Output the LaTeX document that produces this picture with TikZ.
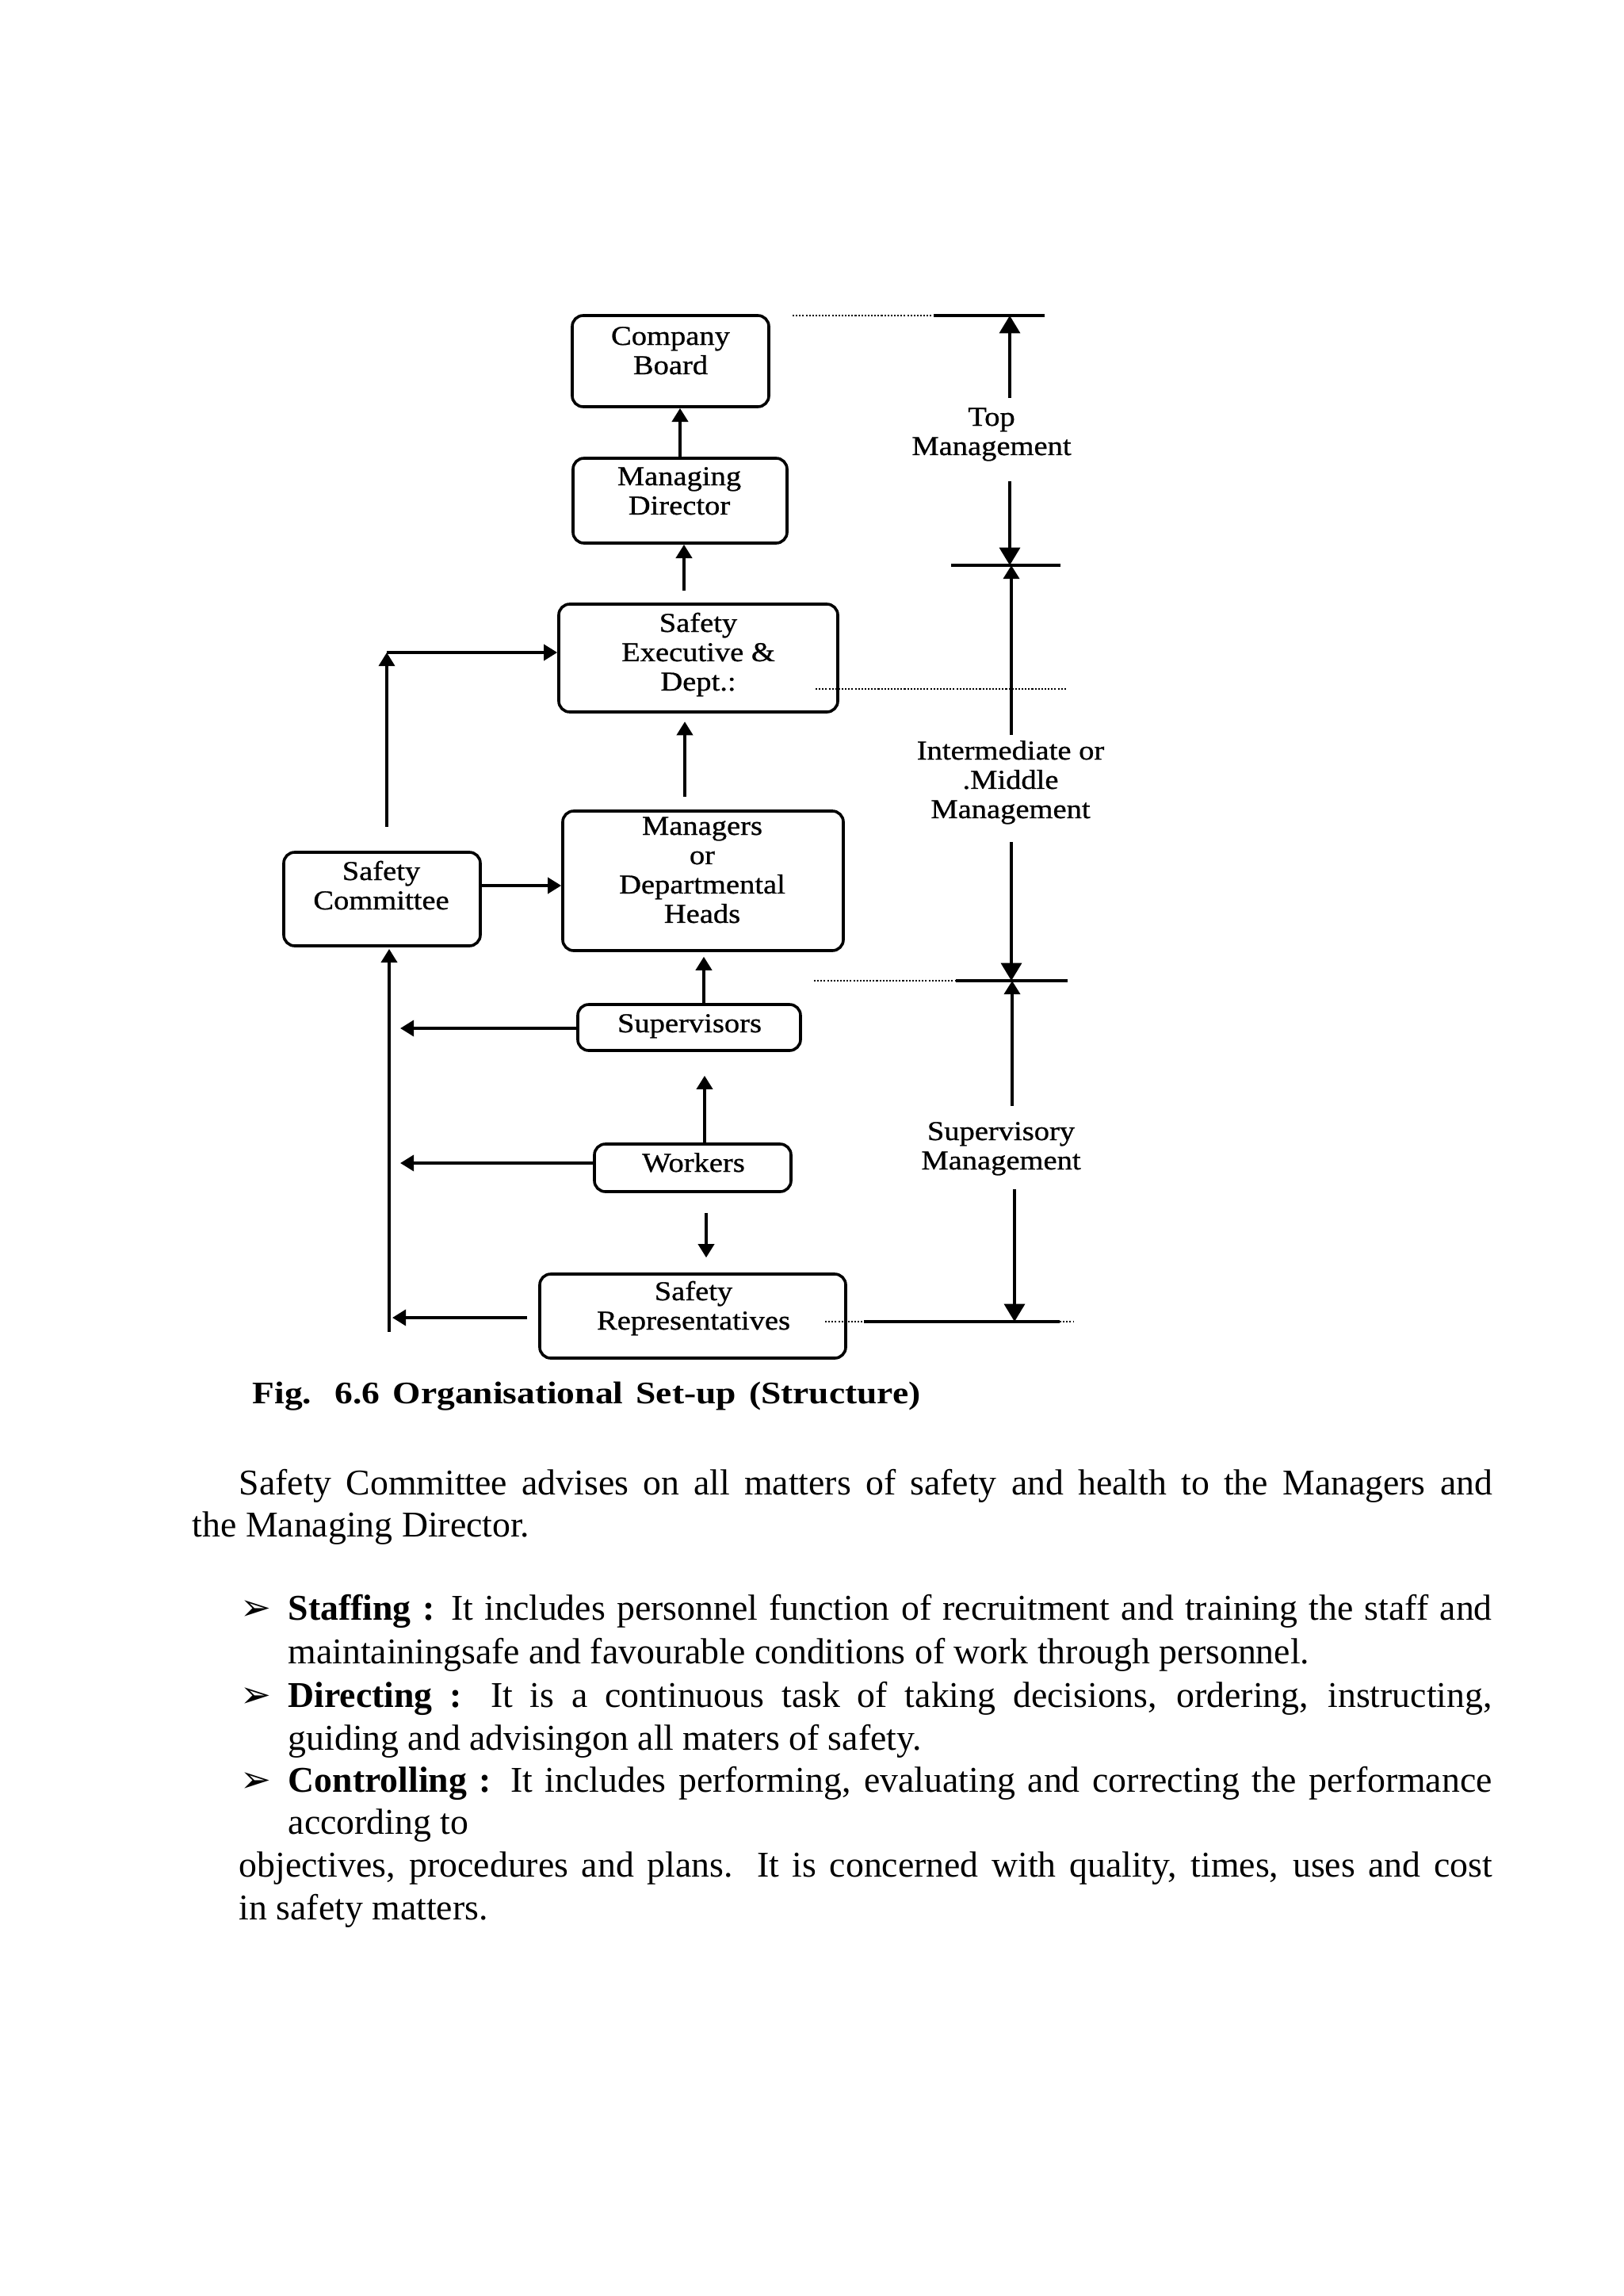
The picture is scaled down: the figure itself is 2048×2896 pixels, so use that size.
\documentclass[tikz,border=0pt]{standalone}
\usepackage{fontspec}
\setmainfont{Liberation Serif}
\newfontfamily\lblfont[FakeStretch=1.12,FakeBold=0.8]{Liberation Serif}
\newfontfamily\capfont[FakeStretch=1.15]{Liberation Serif}
\newfontfamily\symfont{DejaVu Sans}
\usetikzlibrary{arrows.meta,fit,calc}
\newcommand\lns[1]{\begin{tabular}[t]{@{}c@{}}#1\end{tabular}}
\begin{document}
\begin{tikzpicture}[x=0.29066pt,y=-0.29066pt,
  box/.style={draw, line width=1.05pt, rounded corners=4pt, inner sep=0pt},
  lbl/.style={font=\lblfont\fontsize{10}{10.75}\selectfont, inner sep=0pt, anchor=base},
  ln/.style={line width=1.2pt},
  arr/.style={line width=1.2pt, -{Triangle[length=5pt,width=5.8pt]}},
  dimarr/.style={line width=1.2pt, -{Triangle[length=6.5pt,width=7.5pt]}},
  dotl/.style={line width=0.6pt, dash pattern=on 0.6pt off 0.6pt},
  body/.style={font=\fontsize{13.3}{15.5}\selectfont, inner sep=0pt, anchor=base west},
  bul/.style={font=\symfont\fontsize{13.5}{15}\selectfont, inner sep=0pt, anchor=base west}]
\useasboundingbox (0,0) rectangle (2048,2896);
\fill[white] (0,0) rectangle (2048,2896);

% boxes
\node[box, fit={(722,398) (970,513)}] (cb) {};
\node[box, fit={(723,578) (993,685)}] (md) {};
\node[box, fit={(705,762) (1057,898)}] (se) {};
\node[box, fit={(710,1023) (1064,1199)}] (mgr) {};
\node[box, fit={(358,1075) (606,1193)}] (sc) {};
\node[box, fit={(729,1267) (1010,1325)}] (sup) {};
\node[box, fit={(750,1443) (998,1503)}] (wrk) {};
\node[box, fit={(681,1607) (1067,1713)}] (sr) {};

% box labels
\node[lbl] (cbt) at (846,435) {\lns{Company\\Board}};
\node[lbl] (mdt) at (857,612) {\lns{Managing\\Director}};
\node[lbl] (set) at (881,797) {\lns{Safety\\Executive \&\\Dept.:}};
\node[lbl] (mgrt) at (886,1053) {\lns{Managers\\or\\Departmental\\Heads}};
\node[lbl] (sct) at (481,1110) {\lns{Safety\\Committee}};
\node[lbl] (supt) at (870,1302) {Supervisors};
\node[lbl] (wrkt) at (875,1478) {Workers};
\node[lbl] (srt) at (875,1640) {\lns{Safety\\Representatives}};

% side labels
\node[lbl] (tm) at (1251,537) {\lns{Top\\Management}};
\node[lbl] (im) at (1275,958) {\lns{Intermediate or\\.Middle\\Management}};
\node[lbl] (sv) at (1263,1438) {\lns{Supervisory\\Management}};

% central arrows
\draw[arr] (md.north) -- (md.north |- cb.south);
\coordinate (s1) at (863,745);
\draw[arr] (s1) -- (s1 |- md.south);
\coordinate (s2) at (864,1005);
\draw[arr, shorten >=3pt] (s2) -- (s2 |- se.south);
\coordinate (s3) at (888,1267);
\draw[arr, shorten >=1.7pt] (s3) -- (s3 |- mgr.south);
\coordinate (s4) at (889,1443);
\draw[arr, shorten >=8.7pt] (s4) -- (s4 |- sup.south);
\coordinate (s6) at (891,1503);
\draw[arr, shorten <=7.8pt, shorten >=5.5pt] (s6) -- (s6 |- sr.north);
\coordinate (s5) at (606,1117);
\draw[arr] (s5) -- (s5 -| mgr.west);

% safety committee loop
\coordinate (c1) at (488,1043);
\coordinate (c2) at (488,823);
\draw[arr] (c1) -- (c2);
\draw[arr] (c2) -- (c2 -| se.west);
\coordinate (c3) at (491,1680);
\draw[arr, shorten >=0.6pt] (c3) -- (c3 |- sc.south);
\coordinate (l1) at (505,1297);
\draw[arr] (l1 -| sup.west) -- (l1);
\coordinate (l2) at (505,1467);
\draw[arr] (l2 -| wrk.west) -- (l2);
\coordinate (l3) at (495,1662);
\draw[arr, shorten <=4pt] (l3 -| sr.west) -- (l3);

% right-hand dimension lines
\coordinate (t0) at (1000,398);
\coordinate (t1) at (1178,398);
\coordinate (t2) at (1318,398);
\draw[dotl] (t0) -- (t1);
\draw[ln] (t1) -- (t2);
\coordinate (ra) at (1274,502);
\draw[dimarr] (ra) -- (ra |- t1);
\coordinate (rb) at (1274,607);
\coordinate (m1) at (1274,713);
\draw[dimarr] (rb) -- (m1);
\coordinate (m1l) at (1200,713);
\coordinate (m1r) at (1338,713);
\draw[ln] (m1l) -- (m1r);
\coordinate (rc) at (1276,927);
\draw[arr] (rc) -- (rc |- m1);
\coordinate (d1a) at (1029,869);
\coordinate (d1b) at (1345,869);
\draw[dotl] (d1a) -- (d1b);
\coordinate (rd) at (1276,1062);
\coordinate (m2) at (1276,1237);
\draw[dimarr] (rd) -- (m2);
\coordinate (d2a) at (1027,1237);
\coordinate (m2l) at (1206,1237);
\coordinate (m2r) at (1347,1237);
\draw[dotl] (d2a) -- (m2l);
\draw[ln] (m2l) -- (m2r);
\coordinate (re) at (1277,1395);
\draw[arr] (re) -- (re |- m2);
\coordinate (rf) at (1280,1500);
\coordinate (m3) at (1280,1667);
\draw[dimarr] (rf) -- (m3);
\coordinate (d3a) at (1041,1667);
\coordinate (m3l) at (1090,1667);
\coordinate (m3r) at (1337,1667);
\coordinate (d3b) at (1354,1667);
\draw[dotl] (d3a) -- (m3l);
\draw[ln] (m3l) -- (m3r);
\draw[dotl] (m3r) -- (d3b);

% caption
\node[inner sep=0pt, anchor=base west] (cap) at (318,1770)
  {\capfont\bfseries\fontsize{11.5}{13}\selectfont\makebox[245pt][s]{Fig. 6.6 Organisational Set-up (Structure)}};

% body text
\node[body] (p1) at (301,1885) {\makebox[459.6pt][s]{Safety Committee advises on all matters of safety and health to the Managers and}};
\node[body] (p2) at (242,1938) {the Managing Director.};

\node[bul] (b1) at (303,2043) {➢};
\node[body] (b1a) at (363,2043) {\makebox[441.5pt][s]{\textbf{Staffing :} It includes personnel function of recruitment and training the staff and}};
\node[body] (b1b) at (363,2098) {maintainingsafe and favourable conditions of work through personnel.};
\node[bul] (b2) at (303,2153) {➢};
\node[body] (b2a) at (363,2153) {\makebox[441.5pt][s]{\textbf{Directing :} It is a continuous task of taking decisions, ordering, instructing,}};
\node[body] (b2b) at (363,2207) {guiding and advisingon all maters of safety.};
\node[bul] (b3) at (303,2260) {➢};
\node[body] (b3a) at (363,2260) {\makebox[441.5pt][s]{\textbf{Controlling :} It includes performing, evaluating and correcting the performance}};
\node[body] (b3b) at (363,2313) {according to};
\node[body] (p3) at (301,2367) {\makebox[459.6pt][s]{objectives, procedures and plans. It is concerned with quality, times, uses and cost}};
\node[body] (p4) at (301,2421) {in safety matters.};
\end{tikzpicture}
\end{document}
